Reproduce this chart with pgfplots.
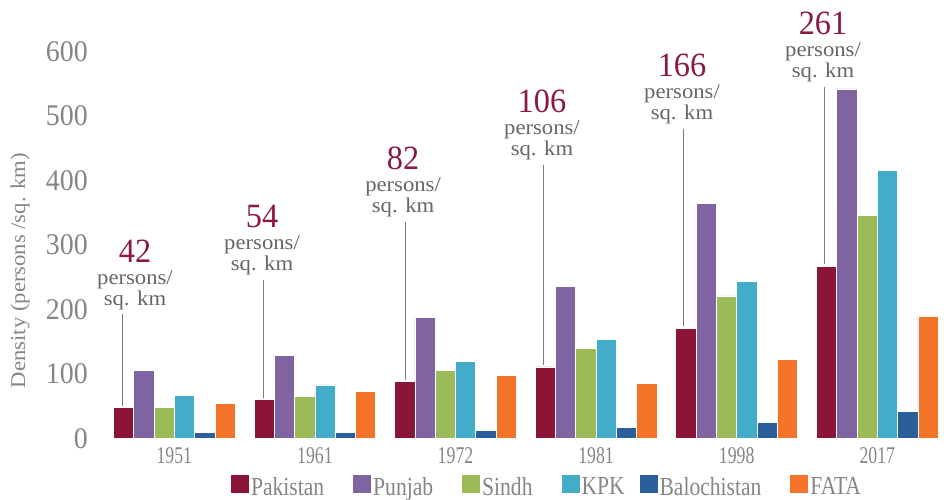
\documentclass[border=0pt]{standalone}
\usepackage{fontspec}
\setmainfont{Liberation Serif}
\newfontfamily\ytfont{Liberation Serif}[FakeStretch=0.93]
\newfontfamily\yrfont{Liberation Serif}[FakeStretch=0.74]
\newfontfamily\bigfont{Liberation Serif}[FakeStretch=0.95]
\newfontfamily\txtfont{Liberation Serif}[FakeStretch=1.08]
\newfontfamily\lgfont{Liberation Serif}[FakeStretch=0.83]
\usepackage{pgfplots}
\pgfplotsset{compat=1.18}

\definecolor{cPak}{HTML}{8C1537}
\definecolor{cPun}{HTML}{8064A2}
\definecolor{cSin}{HTML}{9BBB59}
\definecolor{cKpk}{HTML}{43ACC8}
\definecolor{cBal}{HTML}{2B5F9B}
\definecolor{cFat}{HTML}{F37329}
\definecolor{cNum}{HTML}{8C1A3D}
\definecolor{cTxt}{HTML}{666666}
\definecolor{cTick}{HTML}{858585}
\definecolor{cLine}{HTML}{7A7A7A}

% text x, line x, baseline of the big number, number, bar top
\newcommand{\annot}[5]{%
  \node[anchor=base,text=cNum,font=\bigfont\fontsize{34}{34}\selectfont] at (axis cs:#1,#3) {#4};
  \node[anchor=base,text=cTxt,font=\txtfont\fontsize{21}{21}\selectfont,yshift=-22pt] at (axis cs:#1,#3) {persons/};
  \node[anchor=base,text=cTxt,font=\txtfont\fontsize{21}{21}\selectfont,yshift=-43pt] at (axis cs:#1,#3) {sq. km};
  \draw[cLine,line width=0.9pt] ([yshift=-52pt]axis cs:#2,#3) -- (axis cs:#2,#5);
}

\begin{document}
\begin{tikzpicture}
\begin{axis}[
  at={(104pt,60.5pt)}, anchor=south west,
  scale only axis, width=836pt, height=387pt,
  xmin=-0.5, xmax=5.446, ymin=0, ymax=600,
  clip=false,
  ybar=0pt, bar width=20.3pt,
  axis line style={draw=none},
  major tick length=0pt,
  xtick={0,1,2,3,4,5},
  xticklabels={1951,1961,1972,1981,1998,2017},
  ytick={0,100,200,300,400,500,600},
  /pgf/number format/assume math mode=true,
  xticklabel style={anchor=north,inner sep=0pt,yshift=-8.5pt,text=cTick,
    font=\yrfont\fontsize{24}{24}\selectfont},
  yticklabel style={anchor=east,inner sep=0pt,xshift=-16pt,text=cTick,
    font=\ytfont\fontsize{30}{30}\selectfont},
  ylabel={Density (persons /sq. km)},
  ylabel style={at={(axis description cs:-0.1005,0.434)},anchor=center,
    text=cTick,font=\txtfont\fontsize{21}{21}\selectfont},
  every axis plot/.append style={draw=white,line width=0.7pt},
  legend columns=6,
  legend style={at={(axis description cs:0.53,-0.125)},anchor=center,
    draw=none,fill=none,text=cTick,
    font=\lgfont\fontsize{26}{26}\selectfont,
    nodes={inner sep=2pt},
    /tikz/every even column/.append style={column sep=27pt}},
  legend image code/.code={\fill[#1,draw=none] (0pt,-6pt) rectangle (18pt,12pt);},
]
\addplot[fill=cPak] coordinates {(0,48) (1,60) (2,88) (3,111) (4,171) (5,267)};
\addlegendentry{Pakistan}
\addplot[fill=cPun] coordinates {(0,106) (1,129) (2,188) (3,236) (4,364) (5,542)};
\addlegendentry{Punjab}
\addplot[fill=cSin] coordinates {(0,48) (1,65) (2,106) (3,140) (4,221) (5,346)};
\addlegendentry{Sindh}
\addplot[fill=cKpk] coordinates {(0,67) (1,83) (2,119) (3,154) (4,244) (5,415)};
\addlegendentry{\makebox[29pt][l]{KPK}}
\addplot[fill=cBal] coordinates {(0,10) (1,10) (2,13) (3,17) (4,25) (5,42)};
\addlegendentry{Balochistan}
\addplot[fill=cFat] coordinates {(0,54) (1,73) (2,98) (3,86) (4,123) (5,190)};
\addlegendentry{FATA}

\annot{-0.2795}{-0.37}{273.6}{42}{51}
\annot{0.624}{0.631}{326.4}{54}{63}
\annot{1.627}{1.641}{416.3}{82}{91}
\annot{2.615}{2.629}{504.7}{106}{114}
\annot{3.611}{3.618}{560.5}{166}{174}
\annot{4.614}{4.621}{625.6}{261}{270}
\end{axis}
\pgfresetboundingbox
\path[use as bounding box] (0,0) rectangle (944pt,499pt);
\end{tikzpicture}
\end{document}
